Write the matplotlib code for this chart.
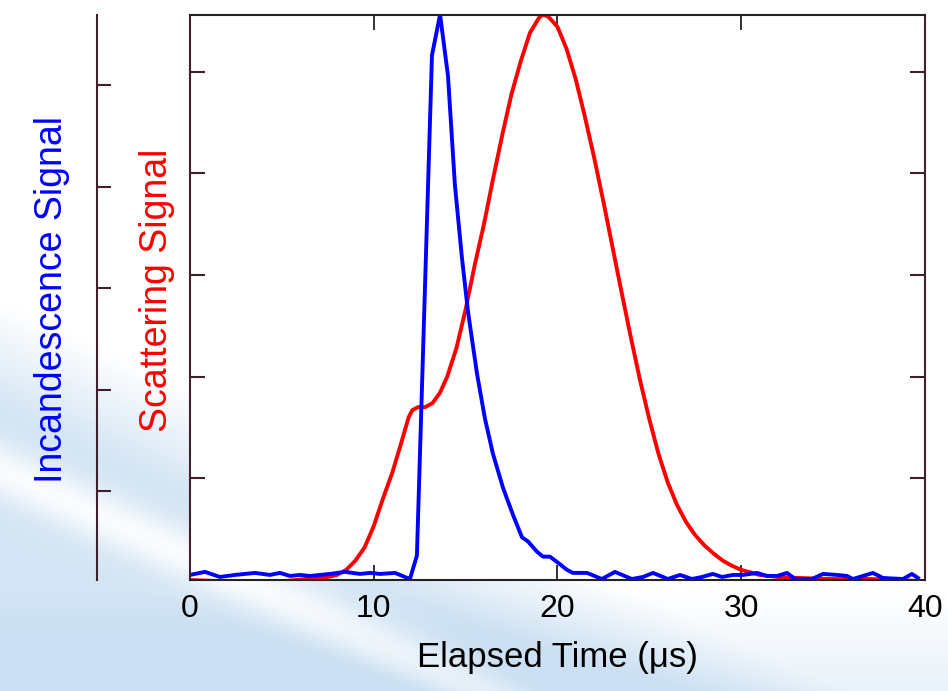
import numpy as np
import matplotlib
matplotlib.use("Agg")
import matplotlib.pyplot as plt

plt.rcParams['font.family'] = ['Liberation Sans', 'DejaVu Sans']

# incandescence (blue), time in microseconds, signal in arbitrary units
t_incand = [0.0, 0.82, 1.63, 2.45, 3.54, 4.35, 4.90, 5.44, 5.99, 6.53, 7.07, 7.62,
            8.44, 9.25, 9.80, 10.34, 11.16, 11.97, 12.35, 13.17, 13.61, 14.04, 14.42,
            14.80, 15.13, 15.62, 16.05, 16.49, 17.03, 17.58, 18.07, 18.39, 18.88,
            19.21, 19.59, 20.03, 20.52, 20.84, 21.61, 22.42, 23.13, 24.05, 24.65,
            25.20, 26.01, 26.67, 27.32, 27.86, 28.46, 28.95, 29.55, 30.10, 30.86,
            31.40, 31.95, 32.49, 32.93, 33.85, 34.45, 35.21, 35.76, 36.08, 37.17,
            37.71, 38.80, 39.29, 39.62]
incand = [0.05, 0.08, 0.03, 0.05, 0.07, 0.05, 0.07, 0.04, 0.05, 0.04, 0.05, 0.06,
          0.08, 0.06, 0.07, 0.06, 0.07, 0.01, 0.24, 5.16, 5.56, 4.96, 3.88,
          3.17, 2.64, 2.03, 1.59, 1.24, 0.91, 0.64, 0.42, 0.38, 0.28,
          0.23, 0.23, 0.17, 0.10, 0.07, 0.07, 0.01, 0.08, 0.01, 0.03,
          0.07, 0.01, 0.05, 0.01, 0.03, 0.06, 0.03, 0.05, 0.05, 0.07,
          0.04, 0.04, 0.07, 0.01, 0.01, 0.06, 0.05, 0.04, 0.01, 0.07,
          0.02, 0.01, 0.06, 0.02]

# scattering (red)
t_scat = [0.0, 1.5, 3.4, 5.2, 6.3, 7.0, 7.5, 8.0, 8.5, 9.0, 9.5, 10.0, 10.5,
          11.0, 11.5, 11.9, 12.1, 12.4, 12.8, 13.2, 13.6, 14.0, 14.5, 15.0,
          15.5, 16.0, 16.5, 17.0, 17.5, 18.0, 18.5, 19.0, 19.2, 19.5, 20.0,
          20.5, 21.0, 21.5, 22.0, 22.5, 23.0, 23.5, 24.0, 24.5, 25.0, 25.5,
          26.0, 26.5, 27.0, 27.5, 28.0, 28.5, 29.0, 29.5, 30.0, 31.0, 32.0,
          33.2, 34.8, 37.0, 38.6, 39.6]
scat = [0.0, -0.01, -0.02, -0.01, 0.01, 0.02, 0.03, 0.05, 0.10, 0.19, 0.32, 0.53, 0.80,
        1.05, 1.35, 1.60, 1.67, 1.70, 1.70, 1.74, 1.84, 2.00, 2.28, 2.66,
        3.10, 3.50, 3.95, 4.38, 4.78, 5.10, 5.38, 5.53, 5.56, 5.54, 5.44,
        5.22, 4.92, 4.55, 4.15, 3.72, 3.27, 2.82, 2.38, 1.96, 1.58, 1.24,
        0.96, 0.74, 0.57, 0.44, 0.34, 0.26, 0.19, 0.14, 0.10, 0.05, 0.03,
        0.02, 0.01, 0.01, 0.0, -0.01]

x_ticks = [0, 10, 20, 30, 40]

fig = plt.figure(figsize=(9.48, 6.91), dpi=100)

# light blue swoosh behind everything
W, H = 948, 691
X, Y = np.meshgrid(np.arange(W), np.arange(H))
u = Y - 0.46 * X
a = np.clip((u - 300) / 110, 0, 1) * 0.85
streak = np.exp(-((u - 470) / 28) ** 2) * 0.75
a = np.clip(a - streak, 0, 1)
a = a + np.clip((Y - 590) / 140, 0, 1) * 0.6
a = np.clip(a, 0, 1)
blue_bg = np.array([0.80, 0.88, 0.95])
img = 1 - a[..., None] * (1 - blue_bg)
bg = fig.add_axes([0, 0, 1, 1], zorder=-1)
bg.imshow(img, aspect='auto', extent=(0, 1, 0, 1))
bg.axis('off')

spine_col = '#40202f'

ax = fig.add_axes([0.2004, 0.1606, 0.7753, 0.8177])
ax.set_facecolor('white')
ax.plot(t_scat, scat, color='#ff0000', lw=2.8, solid_joinstyle='round')
ax.plot(t_incand, incand, color='#0000ff', lw=2.8, solid_joinstyle='round')
ax.set_xlim(0, 40)
ax.set_ylim(0, 5.556)
ax.set_xticks(x_ticks)
ax.set_yticks([1, 2, 3, 4, 5])
ax.set_yticklabels([])
ax.tick_params(axis='x', direction='in', length=11, width=1.3, top=True,
               labelsize=23, pad=10, color='#222222')
ax.tick_params(axis='y', direction='in', length=11, width=1.5, right=True,
               color=spine_col)
for s in ['top', 'bottom']:
    ax.spines[s].set_color('#222222')
    ax.spines[s].set_linewidth(1.5)
for s in ['left', 'right']:
    ax.spines[s].set_color(spine_col)
    ax.spines[s].set_linewidth(1.5)
ax.set_xlabel('Elapsed Time (μs)', fontsize=25, labelpad=12)

# outer axis for incandescence scale
ax2 = fig.add_axes([0.1023, 0.1606, 0.01, 0.8177])
ax2.patch.set_visible(False)
for s in ['top', 'bottom', 'right']:
    ax2.spines[s].set_visible(False)
ax2.spines['left'].set_color(spine_col)
ax2.spines['left'].set_linewidth(1.5)
ax2.set_ylim(0.123, 5.69)
ax2.set_yticks([1, 2, 3, 4, 5])
ax2.set_yticklabels([])
ax2.set_xticks([])
ax2.tick_params(axis='y', direction='in', length=10, width=1.5, color=spine_col)

fig.text(0.055, 0.566, 'Incandescence Signal', rotation=90, color='#0000ff',
         fontsize=27, ha='center', va='center')
fig.text(0.166, 0.58, 'Scattering Signal', rotation=90, color='#ff0000',
         fontsize=27, ha='center', va='center')

fig.savefig('out.png', dpi=100)
